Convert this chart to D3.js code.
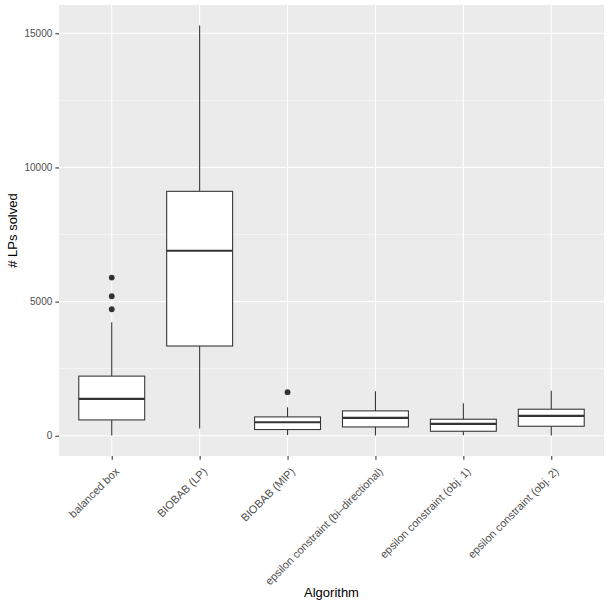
<!DOCTYPE html>
<html>
<head>
<meta charset="utf-8">
<script src="https://cdn.jsdelivr.net/npm/d3@7"></script>
<style>
  body { margin: 0; background: #fff; }
  svg text { font-family: "Liberation Sans", Arial, sans-serif; }
</style>
</head>
<body>
<div id="chart"></div>
<script>
// box statistics
const algorithms = [
    "balanced box",
    "BIOBAB (LP)",
    "BIOBAB (MIP)",
    "epsilon constraint (bi\u2013directional)",
    "epsilon constraint (obj. 1)",
    "epsilon constraint (obj. 2)"
];
const lowerWhisker = [10, 270, 30, 10, 20, 10];
const q1 = [590, 3345, 232, 329, 168, 355];
const median = [1375, 6895, 504, 665, 441, 740];
const q3 = [2223, 9110, 703, 927, 617, 990];
const upperWhisker = [4230, 15290, 1065, 1663, 1214, 1675];
const outliers = [[4716, 5200, 5897], [], [1625], [], [], []];
const yTicks = [0, 5000, 10000, 15000];
const yMinorTicks = [2500, 7500, 12500];

const width = 609;
const height = 609;
const marginLeft = 59;
const marginRight = 5;
const marginTop = 5;
const marginBottom = 153;

const boxes = algorithms.map((name, i) => ({
    name,
    lo: lowerWhisker[i],
    q1: q1[i],
    med: median[i],
    q3: q3[i],
    hi: upperWhisker[i],
    out: outliers[i]
}));

const dataMin = d3.min(boxes, (d) => d.lo);
const dataMax = d3.max(boxes, (d) => d3.max([d.hi, ...d.out]));
const pad = (dataMax - dataMin) * 0.05;

const x = d3
    .scalePoint()
    .domain(algorithms)
    .range([marginLeft, width - marginRight])
    .padding(0.6);
const boxW = x.step() * 0.75;

const y = d3
    .scaleLinear()
    .domain([dataMin - pad, dataMax + pad])
    .range([height - marginBottom, marginTop]);

const svg = d3
    .select("#chart")
    .append("svg")
    .attr("width", width)
    .attr("height", height)
    .attr("viewBox", [0, 0, width, height]);

// panel
svg.append("rect")
    .attr("x", marginLeft)
    .attr("y", marginTop)
    .attr("width", width - marginRight - marginLeft)
    .attr("height", height - marginBottom - marginTop)
    .attr("fill", "#ebebeb");

const grid = svg.append("g").attr("stroke", "#fff").attr("fill", "none");
grid.selectAll(".minor")
    .data(yMinorTicks)
    .join("line")
    .attr("x1", marginLeft)
    .attr("x2", width - marginRight)
    .attr("y1", (d) => y(d))
    .attr("y2", (d) => y(d))
    .attr("stroke-width", 0.53);
grid.selectAll(".major")
    .data(yTicks)
    .join("line")
    .attr("x1", marginLeft)
    .attr("x2", width - marginRight)
    .attr("y1", (d) => y(d))
    .attr("y2", (d) => y(d))
    .attr("stroke-width", 1.07);
grid.selectAll(".vmajor")
    .data(algorithms)
    .join("line")
    .attr("x1", (d) => x(d))
    .attr("x2", (d) => x(d))
    .attr("y1", marginTop)
    .attr("y2", height - marginBottom)
    .attr("stroke-width", 1.07);

// boxes
const g = svg.append("g").attr("stroke", "#333333");
const box = g.selectAll("g").data(boxes).join("g");

box.append("line")
    .attr("x1", (d) => x(d.name))
    .attr("x2", (d) => x(d.name))
    .attr("y1", (d) => y(d.hi))
    .attr("y2", (d) => y(d.q3))
    .attr("stroke-width", 1.07);
box.append("line")
    .attr("x1", (d) => x(d.name))
    .attr("x2", (d) => x(d.name))
    .attr("y1", (d) => y(d.q1))
    .attr("y2", (d) => y(d.lo))
    .attr("stroke-width", 1.07);
box.append("rect")
    .attr("x", (d) => x(d.name) - boxW / 2)
    .attr("y", (d) => y(d.q3))
    .attr("width", boxW)
    .attr("height", (d) => y(d.q1) - y(d.q3))
    .attr("fill", "#fff")
    .attr("stroke-width", 1.07);
box.append("line")
    .attr("x1", (d) => x(d.name) - boxW / 2)
    .attr("x2", (d) => x(d.name) + boxW / 2)
    .attr("y1", (d) => y(d.med))
    .attr("y2", (d) => y(d.med))
    .attr("stroke-width", 2.13);
box.selectAll("circle")
    .data((d) => d.out.map((v) => ({ name: d.name, v })))
    .join("circle")
    .attr("cx", (d) => x(d.name))
    .attr("cy", (d) => y(d.v))
    .attr("r", 2.9)
    .attr("fill", "#333333")
    .attr("stroke", "none");

// y axis
const yAxis = svg.append("g")
    .attr("transform", `translate(${marginLeft},0)`)
    .call(d3.axisLeft(y).tickValues(yTicks).tickFormat(d3.format("d"))
        .tickSizeOuter(0).tickSize(3.7).tickPadding(3));
yAxis.select(".domain").remove();
yAxis.selectAll(".tick line").attr("stroke", "#333333").attr("stroke-width", 1.07);
yAxis.selectAll(".tick text")
    .attr("fill", "#4d4d4d")
    .style("font-size", "10px");

// x axis
const xAxis = svg.append("g")
    .attr("transform", `translate(0,${height - marginBottom})`)
    .call(d3.axisBottom(x).tickSizeOuter(0).tickSize(3.7).tickFormat(() => ""));
xAxis.select(".domain").remove();
xAxis.selectAll(".tick line").attr("stroke", "#333333").attr("stroke-width", 1.07);

svg.append("g")
    .selectAll("text")
    .data(algorithms)
    .join("text")
    .attr("transform", (d) => `translate(${x(d) + 2.5},${height - marginBottom + 10.5}) rotate(-45)`)
    .attr("text-anchor", "end")
    .attr("dy", "0.72em")
    .attr("fill", "#4d4d4d")
    .style("font-size", "11px")
    .text((d) => d);

// axis titles
svg.append("text")
    .attr("x", (marginLeft + width - marginRight) / 2)
    .attr("y", 597)
    .attr("text-anchor", "middle")
    .style("font-size", "13px")
    .text("Algorithm");

svg.append("text")
    .attr("transform", `translate(17,${(marginTop + height - marginBottom) / 2}) rotate(-90)`)
    .attr("text-anchor", "middle")
    .style("font-size", "13px")
    .text("# LPs solved");
</script>
</body>
</html>
